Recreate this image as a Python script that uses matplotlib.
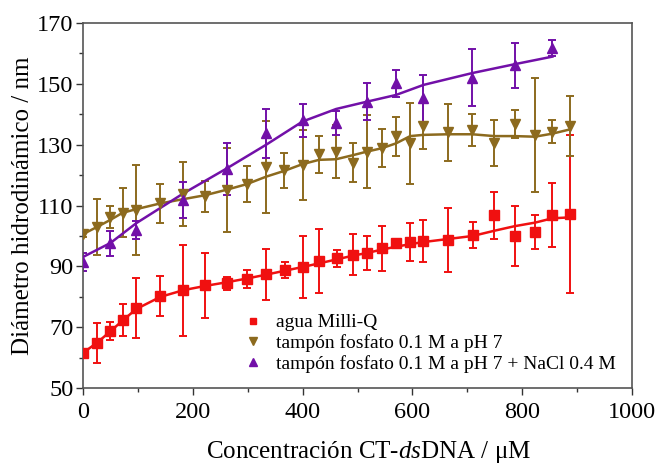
import matplotlib
matplotlib.use("Agg")
import matplotlib.pyplot as plt
from matplotlib.ticker import MultipleLocator

plt.rcParams['font.family'] = ['Liberation Serif', 'DejaVu Serif']
plt.rcParams['mathtext.fontset'] = 'custom'
plt.rcParams['mathtext.rm'] = 'Liberation Serif'
plt.rcParams['mathtext.it'] = 'Liberation Serif:italic'

# agua Milli-Q
conc_water = [0, 26, 50, 72, 97, 141, 183, 223, 262, 298, 334, 368, 400, 430,
              462, 491, 517, 544, 571, 596, 620, 665, 710, 749, 786, 824, 855, 887]
d_water = [61.6, 64.8, 68.8, 72.3, 76.4, 80.2, 82.2, 83.8, 84.4, 85.8, 87.4, 88.8, 89.8, 91.8,
           92.6, 93.9, 94.4, 95.9, 97.7, 98.1, 98.4, 98.8, 100.3, 106.8, 100.0, 101.3, 106.8, 107.1]
err_water = [1, 6.6, 2.9, 5.3, 9.9, 6.6, 14.9, 10.6, 2.2, 3, 8.4, 2.7, 10.3, 10.4,
             2.7, 6.7, 5.5, 7.4, 1, 6.3, 7, 10.5, 4.2, 7.8, 9.9, 5.7, 10.5, 26]
fit_water = [61.6, 65, 68.7, 72.2, 76, 80, 82.2, 83.6, 84.8, 86, 87.3, 88.6, 89.8, 91,
             92.3, 93.5, 94.4, 95.5, 96.5, 97.3, 98, 99, 100, 101.7, 103.2, 104.4, 105.8, 106.1]

# tampon fosfato
conc_buffer = [0, 26, 50, 72, 97, 141, 183, 223, 262, 298, 334, 367, 400, 430,
               461, 491, 517, 544, 570, 596, 620, 665, 709, 749, 786, 823, 855, 887]
d_buffer = [100.8, 103, 106.3, 107.7, 108.5, 110.7, 113.7, 113.1, 115.1, 117, 122.7, 121.6, 123.3, 126.8,
            127.7, 124.1, 127.7, 128.8, 132.8, 130.4, 136.1, 134, 134.8, 130.6, 136.8, 133.2, 134.3, 136.1]
err_buffer = [1, 9.3, 3.6, 8, 14.9, 6.5, 10.5, 5.1, 13.7, 5.9, 15.2, 5.8, 11.6, 6,
              8.6, 6.3, 12, 6.3, 6.4, 13.4, 7.6, 9.4, 5.2, 7.5, 4.5, 18.8, 3.8, 10]
fit_buffer = [100.6, 103, 105.3, 107.6, 108.8, 110.7, 112.1, 113.4, 115.2, 117, 119.5, 121.4, 123.6, 125,
              125.2, 126.5, 127.7, 128.8, 130.4, 132.8, 133.2, 133.4, 133.4, 132.8, 132.8, 132.6, 133.6, 135]

# tampon fosfato + NaCl
conc_nacl = [0, 50, 97, 183, 262, 333, 400, 461, 517, 570, 620, 709, 786, 855]
d_nacl = [91.5, 97.6, 101.9, 111.8, 122, 133.7, 138, 137.2, 144.1, 150.2, 145.2, 152, 156, 161.7]
err_nacl = [2.9, 4.1, 3, 5.8, 8.6, 8, 5.5, 4, 6, 4.4, 7.8, 9.3, 7.3, 2.6]
fit_nacl = [93.1, 97.7, 104.2, 114, 122.2, 129.9, 137.6, 141.7, 144.1, 146.3, 149.6, 153.5, 156.4, 158.9]

labels = ['agua Milli-Q', 'tampón fosfato 0.1 M a pH 7',
          'tampón fosfato 0.1 M a pH 7 + NaCl 0.4 M']
y_ticks = [50, 70, 90, 110, 130, 150, 170]

red = '#f01010'
brown = '#8c6a1e'
purple = '#7210a8'

fig = plt.figure(figsize=(6.59, 4.66), dpi=100)
ax = fig.add_axes([0.126, 0.167, 0.833, 0.784])

series = [
    (conc_water, d_water, err_water, fit_water, red, 's', 6.5),
    (conc_buffer, d_buffer, err_buffer, fit_buffer, brown, 'v', 7),
    (conc_nacl, d_nacl, err_nacl, fit_nacl, purple, '^', 7),
]
handles = []
for (x, y, e, fit, c, m, ms), lab in zip(series, labels):
    ax.errorbar(x, y, yerr=e, fmt='none', ecolor=c, elinewidth=1.4,
                capsize=3, capthick=1.4, zorder=2)
    ax.plot(x, fit, '-', color=c, lw=1.8, zorder=3)
    h, = ax.plot(x, y, m, color=c, ms=ms, ls='none', zorder=4, label=lab)
    handles.append(h)

ax.set_xlim(0, 1000)
ax.set_ylim(50, 170)
ax.xaxis.set_major_locator(MultipleLocator(200))
ax.xaxis.set_minor_locator(MultipleLocator(100))
ax.set_yticks(y_ticks)
ax.yaxis.set_minor_locator(MultipleLocator(10))
ax.tick_params(which='major', direction='out', length=5, width=1, labelsize=17.5,
               colors='#333333', labelcolor='black')
ax.tick_params(which='minor', direction='out', length=3, width=1, colors='#333333')
ax.tick_params(axis='x', which='major', pad=5)
ax.tick_params(axis='y', which='major', pad=2)
for s in ax.spines.values():
    s.set_color('#555555')
    s.set_linewidth(1.2)

ax.set_xlabel('Concentración CT-$\\mathit{ds}$DNA / μM', fontsize=18)
ax.set_ylabel('Diámetro hidrodinámico / nm', fontsize=18)
ax.xaxis.set_label_coords(0.52, -0.14)
ax.yaxis.set_label_coords(-0.09, 0.5)

ax.legend(handles=handles, loc='lower left', bbox_to_anchor=(0.27, 0.015),
          frameon=False, fontsize=14, handletextpad=0.6, handlelength=1.2,
          labelspacing=0.15, borderpad=0, markerscale=0.75)

fig.savefig('out.png', dpi=100)
